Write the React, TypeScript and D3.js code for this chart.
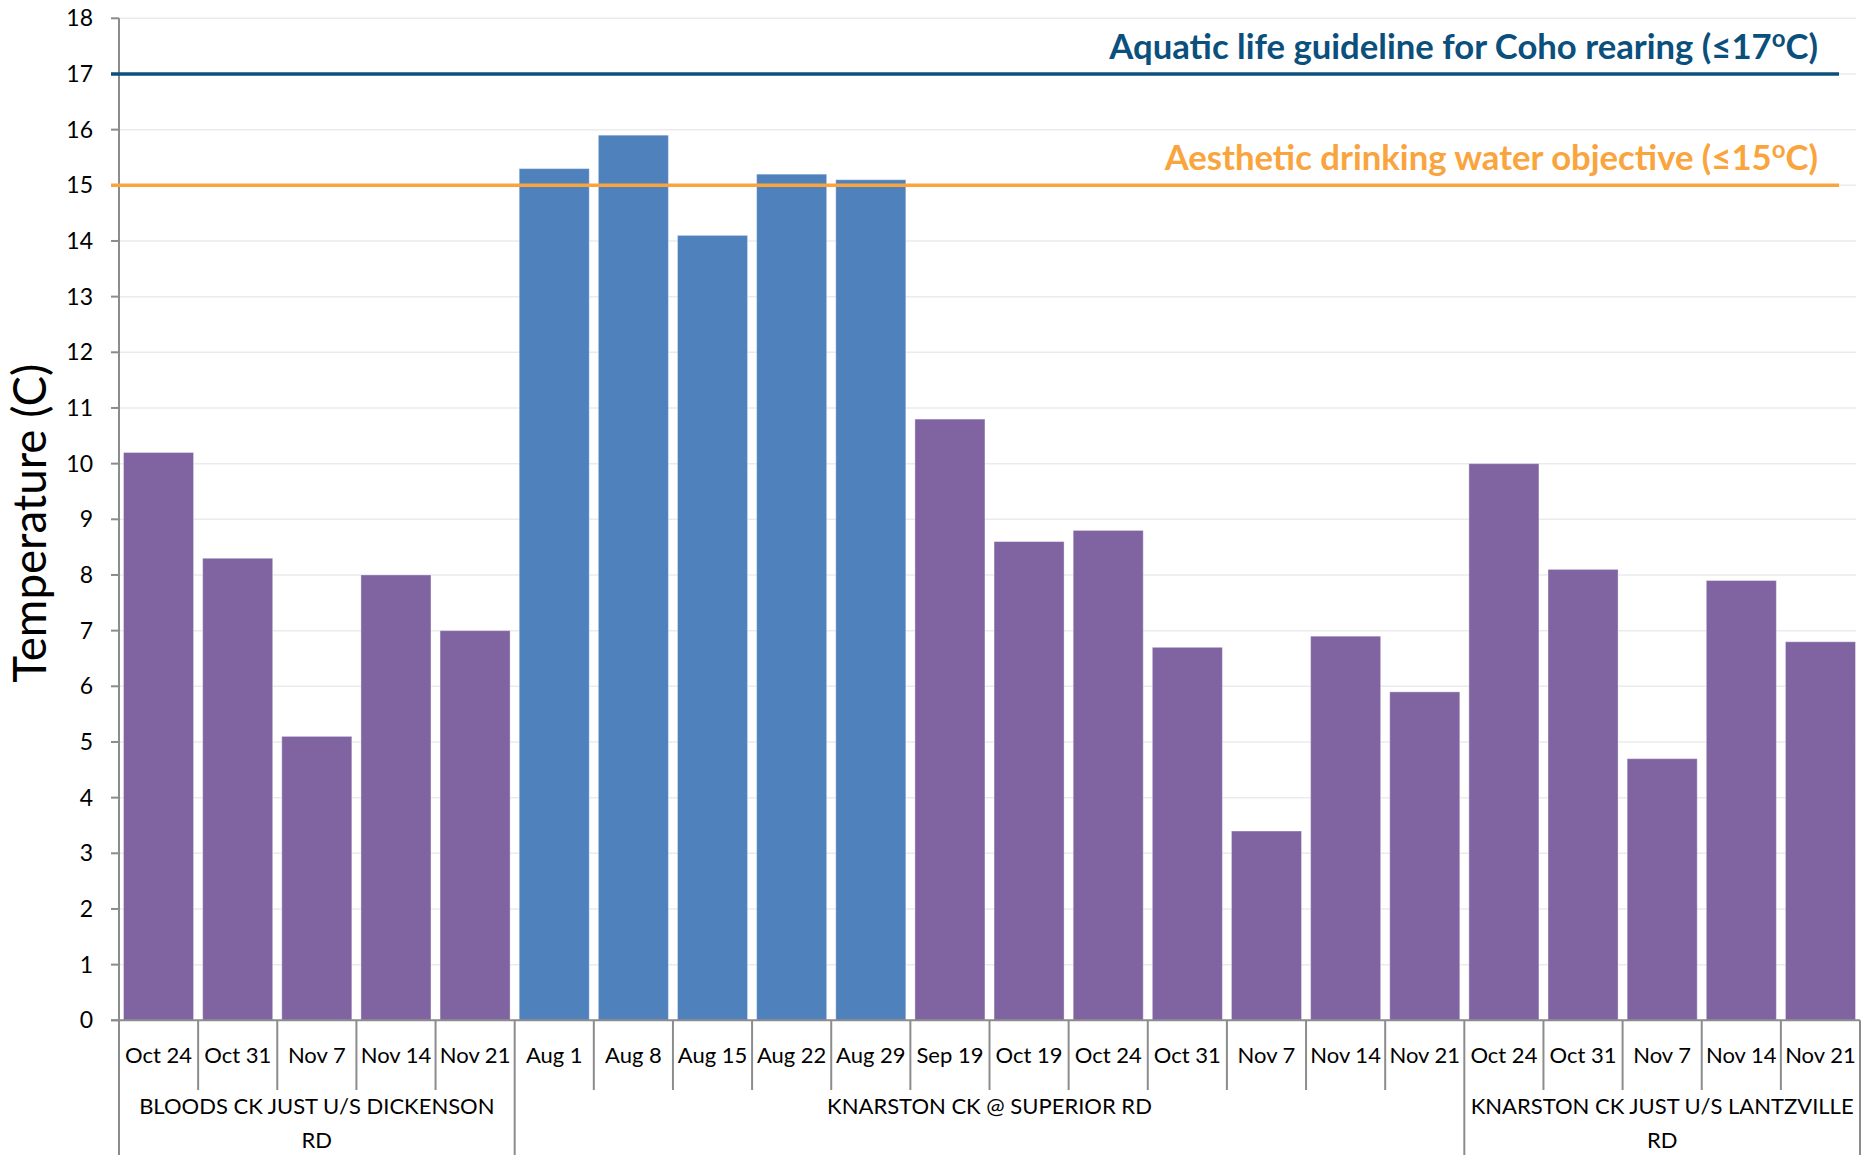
import React from "react";
import * as d3 from "d3";

const dates = [
  "Oct 24", "Oct 31", "Nov 7", "Nov 14", "Nov 21",
  "Aug 1", "Aug 8", "Aug 15", "Aug 22", "Aug 29", "Sep 19", "Oct 19", "Oct 24", "Oct 31", "Nov 7", "Nov 14", "Nov 21",
  "Oct 24", "Oct 31", "Nov 7", "Nov 14", "Nov 21",
];
const temperatures = [
  10.2, 8.3, 5.1, 8.0, 7.0,
  15.3, 15.9, 14.1, 15.2, 15.1, 10.8, 8.6, 8.8, 6.7, 3.4, 6.9, 5.9,
  10.0, 8.1, 4.7, 7.9, 6.8,
];
const seriesKind = [
  "fall", "fall", "fall", "fall", "fall",
  "summer", "summer", "summer", "summer", "summer", "fall", "fall", "fall", "fall", "fall", "fall", "fall",
  "fall", "fall", "fall", "fall", "fall",
];
const siteNames = [
  "BLOODS CK JUST U/S DICKENSON RD",
  "KNARSTON CK @ SUPERIOR RD",
  "KNARSTON CK JUST U/S LANTZVILLE RD",
];
const siteSizes = [5, 12, 5];
const yTicks = d3.range(0, 19, 1);
const guidelines = [
  { value: 17, label: "Aquatic life guideline for Coho rearing (≤17", unit: "C)", color: "#0B4F7C" },
  { value: 15, label: "Aesthetic drinking water objective (≤15", unit: "C)", color: "#F9A43C" },
];
const kindColor: Record<string, string> = { fall: "#8064A2", summer: "#4F81BD" };

const W = 1862;
const H = 1155;
const left = 119;
const right = 1860;
const top = 18.3;
const bottom = 1020.3;
const FONT = "Lato, 'Open Sans', sans-serif";

function wrap(text: string, width: number, font: string): string[] {
  const c = document.createElement("canvas").getContext("2d")!;
  c.font = font;
  const words = text.split(" ");
  const lines: string[] = [];
  let cur = "";
  for (const w of words) {
    const t = cur ? cur + " " + w : w;
    if (c.measureText(t).width > width && cur) {
      lines.push(cur);
      cur = w;
    } else cur = t;
  }
  if (cur) lines.push(cur);
  return lines;
}

export default function App() {
  const idx = dates.map((_, i) => i);
  const x = d3.scaleBand<number>().domain(idx).range([left, right]).paddingInner(0.115).paddingOuter(0.057);
  const xb = d3.scaleLinear().domain([0, dates.length]).range([left, right]);
  const y = d3.scaleLinear().domain([0, 18]).range([bottom, top]);

  const groupStarts: number[] = [];
  siteSizes.reduce((acc, s) => {
    groupStarts.push(acc);
    return acc + s;
  }, 0);

  return (
    <svg width={W} height={H} style={{ position: "absolute", left: 0, top: 0, background: "#fff" }}>
      {/* gridlines */}
      {yTicks.map((t) => (
        <line key={"g" + t} x1={left} x2={1856} y1={y(t)} y2={y(t)} stroke="#ebebeb" strokeWidth={1.5} />
      ))}
      {/* bars */}
      {temperatures.map((v, i) => (
        <rect
          key={"b" + i}
          x={x(i)}
          y={y(v)}
          width={x.bandwidth()}
          height={y(0) - y(v)}
          fill={kindColor[seriesKind[i]]}
          stroke="#ffffff"
          strokeOpacity={0.35}
          strokeWidth={1}
        />
      ))}
      {/* y axis */}
      <line x1={left} x2={left} y1={top} y2={bottom} stroke="#8c8c8c" strokeWidth={2} />
      {yTicks.map((t) => (
        <g key={"t" + t}>
          <line x1={111} x2={left} y1={y(t)} y2={y(t)} stroke="#8c8c8c" strokeWidth={2} />
          <text x={93} y={y(t)} dy="0.35em" textAnchor="end" fontFamily={FONT} fontSize={23} fill="#000">
            {t}
          </text>
        </g>
      ))}
      {/* guideline lines */}
      {guidelines.map((g) => (
        <g key={"l" + g.value}>
          <line x1={111} x2={1839} y1={y(g.value)} y2={y(g.value)} stroke={g.color} strokeWidth={3.5} />
          <text
            x={1818}
            y={y(g.value) - 15}
            textAnchor="end"
            fontFamily={FONT}
            fontWeight="bold"
            fontSize={34.7}
            fill={g.color}
          >
            {g.label}
            <tspan dy={-12} fontSize={24}>o</tspan>
            <tspan dy={12}>{g.unit}</tspan>
          </text>
        </g>
      ))}
      {/* x axis */}
      <line x1={111} x2={right} y1={bottom} y2={bottom} stroke="#8c8c8c" strokeWidth={2} />
      {d3.range(0, dates.length + 1).map((k) => {
        const isGroup = k === 0 || k === dates.length || groupStarts.includes(k);
        return (
          <line
            key={"xt" + k}
            x1={xb(k)}
            x2={xb(k)}
            y1={bottom}
            y2={isGroup ? H : 1090}
            stroke="#8c8c8c"
            strokeWidth={2}
          />
        );
      })}
      {dates.map((d, i) => (
        <text
          key={"d" + i}
          x={(xb(i) + xb(i + 1)) / 2}
          y={1055}
          dy="0.35em"
          textAnchor="middle"
          fontFamily={FONT}
          fontSize={22}
          fill="#000"
        >
          {d}
        </text>
      ))}
      {siteNames.map((name, gi) => {
        const s = groupStarts[gi];
        const e = s + siteSizes[gi];
        const cx = (xb(s) + xb(e)) / 2;
        const lines = wrap(name, xb(e) - xb(s) - 4, `22px ${FONT}`);
        return (
          <text key={"s" + gi} textAnchor="middle" fontFamily={FONT} fontSize={22} fill="#000">
            {lines.map((ln, li) => (
              <tspan key={li} x={cx} y={1106 + li * 34} dy="0.35em">
                {ln}
              </tspan>
            ))}
          </text>
        );
      })}
      {/* y title */}
      <text
        transform={`translate(46,${(top + bottom) / 2 + 4}) rotate(-90)`}
        textAnchor="middle"
        fontFamily={FONT}
        fontSize={45.7}
        fill="#000"
      >
        Temperature (C)
      </text>
    </svg>
  );
}
